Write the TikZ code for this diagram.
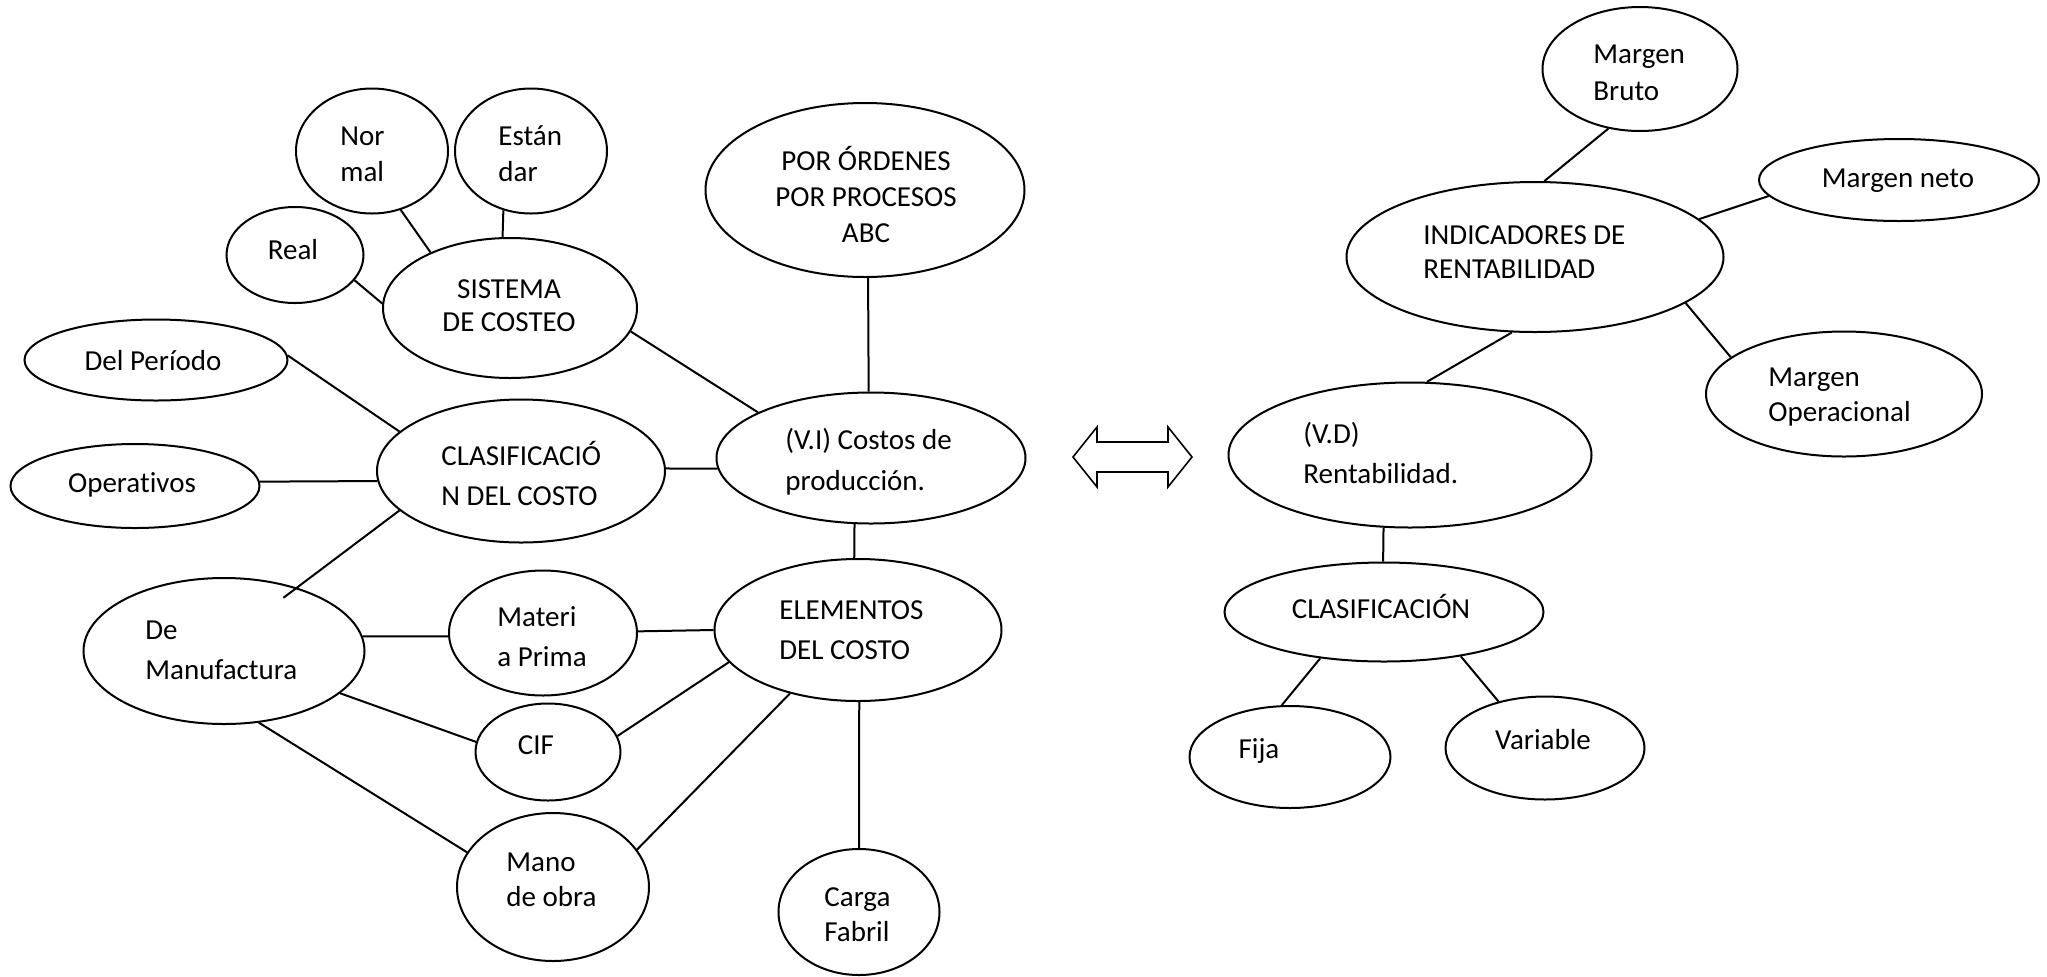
\documentclass[tikz,border=0pt]{standalone}
\usepackage{fontspec}
\setmainfont{Carlito}[Ligatures=NoCommon]
\usetikzlibrary{shapes.geometric}
\begin{document}
\begin{tikzpicture}[x=0.5pt,y=-0.5pt,
  bub/.style 2 args={ellipse, draw, line width=1pt, inner sep=0pt, minimum width=#1*0.5pt, minimum height=#2*0.5pt},
  con/.style={line width=1pt},
  lbl/.style={inner sep=0pt, font=\fontsize{14.5}{18}\selectfont},
  lbll/.style={inner sep=0pt, anchor=west, align=left, font={\fontsize{14.5}{#1}\selectfont}},
  lblc/.style={inner sep=0pt, align=center, font={\fontsize{14.5}{#1}\selectfont}}]
\useasboundingbox (0,0) rectangle (2047,976);
% ellipses
\node[bub={152}{125}] (nor) at (372,151) {};
\node[bub={152}{125}] (est) at (531,151) {};
\node[bub={137}{96}] (real) at (295,255) {};
\node[bub={254}{140}] (sis) at (510,308) {};
\node[bub={263}{81}] (per) at (156,360) {};
\node[bub={288}{143}] (cla) at (521,471) {};
\node[bub={249}{84}] (ope) at (135,486) {};
\node[bub={319}{174}] (por) at (865,190) {};
\node[bub={309}{131}] (vi) at (871,458) {};
\node[bub={281}{146}] (man) at (224,651) {};
\node[bub={188}{125}] (mat) at (543,633) {};
\node[bub={145}{97}] (cif) at (548,752) {};
\node[bub={192}{148}] (mano) at (553,887) {};
\node[bub={287}{142}] (ele) at (858,630) {};
\node[bub={161}{126}] (car) at (859,912) {};
\node[bub={377}{150}] (ind) at (1535,257) {};
\node[bub={195}{124}] (bru) at (1640,69) {};
\node[bub={280}{82}] (net) at (1899,180) {};
\node[bub={276}{125}] (opr) at (1844,394) {};
\node[bub={363}{145}] (vd) at (1410,455) {};
\node[bub={319}{99}] (clf) at (1384,612) {};
\node[bub={201}{102}] (fij) at (1290,757) {};
\node[bub={199}{103}] (var) at (1545,748) {};
% texts
\node[lbll=18pt] (tnor) at (340,154) {Nor\\mal};
\node[lbll=18pt] (test) at (498,154) {Están\\dar};
\node[lbl] (treal) at (293,250) {Real};
\node[lblc=16.5pt] (tsis) at (509,306) {SISTEMA\\DE COSTEO};
\node[lbl] (tper) at (153,361) {Del Período};
\node[lbl] (tope) at (132,485) {Operat\kern0pt ivos};
\node[lbll=20pt] (tcla) at (441,473) {CLASIFICACIÓ\\N DEL COSTO};
\node[lblc=18pt] (tpor) at (866,194) {POR ÓRDENES\\POR PROCESOS\\ABC};
\node[lbll=20.5pt] (tvi) at (785,462) {(V.I) Costos de\\producción.};
\node[lbll=20pt] (tman) at (145,650) {De\\Manufactura};
\node[lbll=20pt] (tmat) at (497,637) {Materi\\a Prima};
\node[lbl] (tcif) at (536,745) {CIF};
\node[lbll=17.5pt] (tmano) at (506,880) {Mano\\de obra};
\node[lbll=20pt] (tele) at (779,630) {ELEMENTOS\\DEL COSTO};
\node[lbll=17.5pt] (tcar) at (824,915) {Carga\\Fabril};
\node[lbll=17pt] (tind) at (1423,252) {INDICADORES DE\\RENTABILIDAD};
\node[lbll=18.5pt] (tbru) at (1593,73) {Margen\\Bruto};
\node[lbl] (tnet) at (1898,181) {Margen neto};
\node[lbll=17.5pt] (topr) at (1768,397) {Margen\\Operacional};
\node[lbll=20pt] (tvd) at (1303,453) {(V.D)\\Rentabilidad.};
\node[lbl] (tclf) at (1381,606) {CLASIFICACIÓN};
\node[lbl] (tfij) at (1259,751) {Fija};
\node[lbl] (tvar) at (1543,740) {Variable};
% connectors
\draw[con] (nor.-64) -- (sis.145);
\draw[con] (est.-115) -- (sis.96);
\draw[con] (real.-23) -- (sis.178);
\draw[con] (per.2) -- (cla.162);
\draw[con] (ope.2) -- (cla.184);
\draw[con] (sis.-11) -- (vi.158);
\draw[con] (por.-88) -- (vi.92);
\draw[con] (cla.1) -- (vi.184);
\draw[con, shorten >=-8.5pt] (cla.198) -- (man.41);
\draw[con] (man.6) -- (mat.182);
\draw[con] (man.-20) -- (cif.172);
\draw[con] (man.-64) -- (mano.158);
\draw[con] (vi.-104) -- (ele.93);
\draw[con] (mat.1) -- (ele.180);
\draw[con] (cif.13) -- (ele.194);
\draw[con] (mano.24) -- (ele.223);
\draw[con] (ele.-89) -- (car.90);
\draw[con] (bru.-118) -- (ind.83);
\draw[con] (net.187) -- (ind.13);
\draw[con] (opr.162) -- (ind.-17);
\draw[con] (ind.-107) -- (vd.77);
\draw[con] (vd.-110) -- (clf.91);
\draw[con] (clf.-144) -- (fij.99);
\draw[con] (clf.-30) -- (var.135);
% double arrow
\draw[line width=0.8pt] (1073,457) -- (1097,427) -- (1097,442) -- (1168,442) -- (1168,427) -- (1192,457) -- (1168,487) -- (1168,472) -- (1097,472) -- (1097,487) -- cycle;
\end{tikzpicture}
\end{document}
